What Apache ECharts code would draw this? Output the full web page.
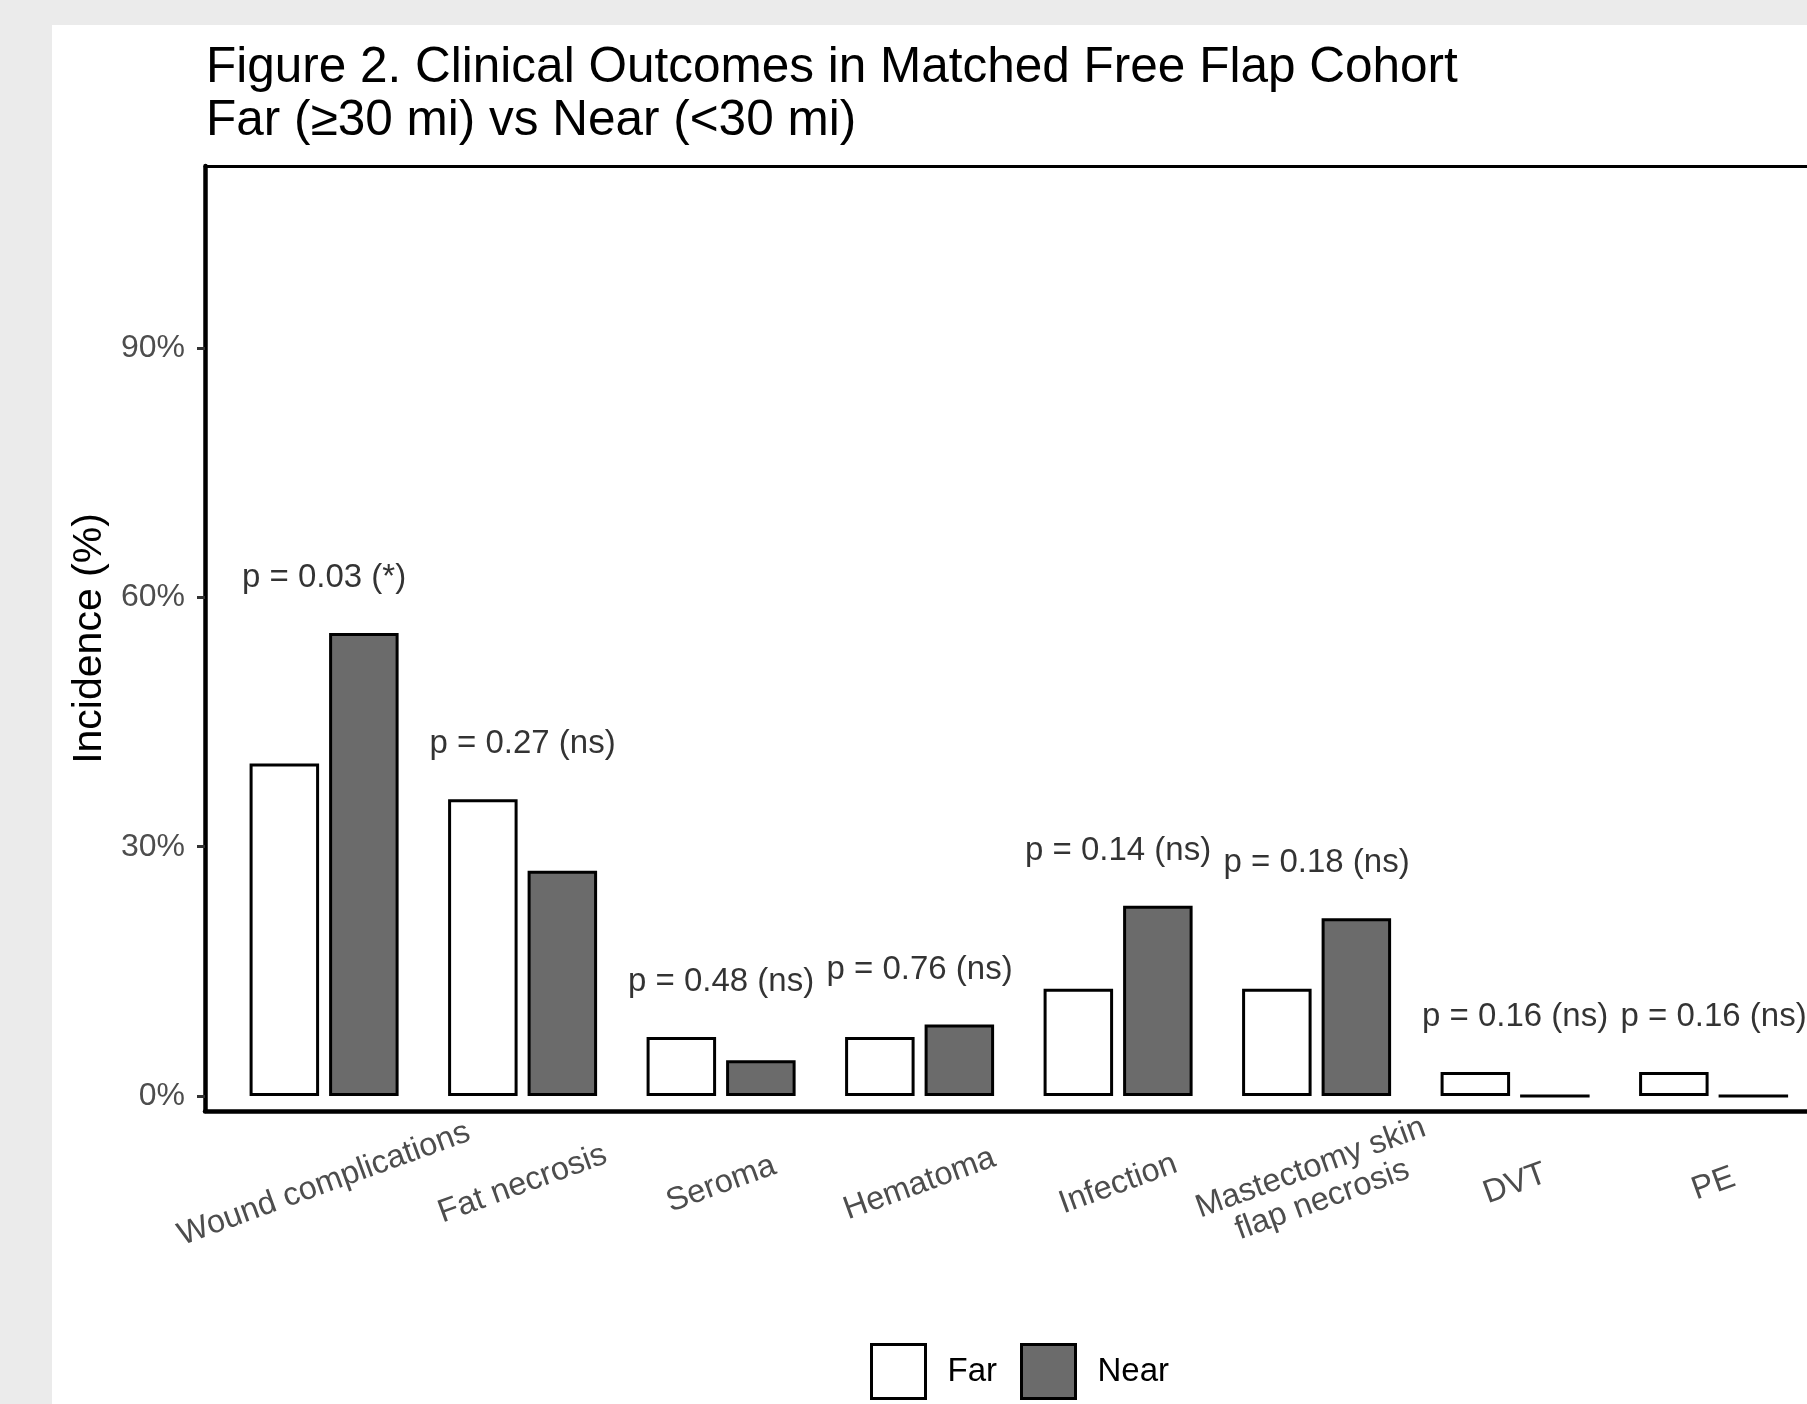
<!DOCTYPE html>
<html>
<head>
<meta charset="utf-8">
<script src="https://cdn.jsdelivr.net/npm/echarts@6/dist/echarts.min.js"></script>
<style>
  html, body { margin: 0; padding: 0; width: 1807px; height: 1404px; overflow: hidden; background: #ebebeb; }
  #sheet { position: absolute; left: 52px; top: 25px; right: 0; bottom: 0; background: #ffffff; }
  #chart { position: absolute; left: 0; top: 0; width: 1807px; height: 1404px; }
</style>
</head>
<body>
<div id="sheet"></div>
<div id="chart"></div>
<script>
// Outcomes and incidence (%) per distance group
const categories = [
  'Wound complications', 'Fat necrosis', 'Seroma', 'Hematoma',
  'Infection', 'Mastectomy skin\nflap necrosis', 'DVT', 'PE'
];
const farValues  = [40.0, 35.7, 7.1, 7.1, 12.9, 12.9, 2.9, 2.9];
const nearValues = [55.7, 27.1, 4.3, 8.6, 22.9, 21.4, 0, 0];
const pLabels = [
  'p = 0.03 (*)', 'p = 0.27 (ns)', 'p = 0.48 (ns)', 'p = 0.76 (ns)',
  'p = 0.14 (ns)', 'p = 0.18 (ns)', 'p = 0.16 (ns)', 'p = 0.16 (ns)'
];
const yTicks = [0, 30, 60, 90];
const seriesNames = ['Far', 'Near'];

const FONT = '"Liberation Sans", Arial, Helvetica, sans-serif';
const Y_MIN = -1.8, Y_MAX = 111.9;

// p-value labels sit a little above the taller bar of each pair
const labelPoints = categories.map((c, i) => [i, Math.max(farValues[i], nearValues[i]) + 5]);

const chart = echarts.init(document.getElementById('chart'), null, { renderer: 'canvas' });

chart.setOption({
  animation: false,
  backgroundColor: 'transparent',
  textStyle: { fontFamily: FONT },
  title: {
    text: 'Figure 2. Clinical Outcomes in Matched Free Flap Cohort\nFar (\u226530 mi) vs Near (<30 mi)',
    left: 201,
    top: 37,
    textStyle: { fontFamily: FONT, fontSize: 49.5, fontWeight: 'normal', color: '#000', lineHeight: 53 }
  },
  legend: {
    data: seriesNames,
    left: 870,
    top: 1343,
    padding: 0,
    itemWidth: 54,
    itemHeight: 54,
    itemGap: 23,
    icon: 'rect',
    itemStyle: { borderColor: '#000', borderWidth: 3 },
    textStyle: { fontFamily: FONT, fontSize: 33, color: '#000', padding: [0, 0, 0, 17] }
  },
  grid: [
    // bars (category bands inset like a discrete scale with 0.6 padding)
    { left: 224.85, top: 166, width: 1588, height: 945, outerBoundsMode: 'none', containLabel: false },
    // panel frame + value axis
    { left: 205, top: 166, width: 1628, height: 945, outerBoundsMode: 'none', containLabel: false }
  ],
  xAxis: [
    {
      type: 'category', gridIndex: 0, data: categories,
      axisLine: { show: false }, axisTick: { show: false }, splitLine: { show: false },
      axisLabel: {
        interval: 0, rotate: 20, align: 'center', verticalAlign: 'middle', margin: 73,
        fontFamily: FONT, fontSize: 32.5, color: '#4d4d4d', lineHeight: 34, hideOverlap: false
      }
    },
    {
      type: 'value', gridIndex: 1, position: 'bottom', min: 0, max: 1,
      axisLine: { show: true, onZero: false, lineStyle: { color: '#000', width: 4.5 } },
      axisTick: { show: false }, axisLabel: { show: false }, splitLine: { show: false }
    },
    {
      type: 'value', gridIndex: 1, position: 'top', min: 0, max: 1,
      axisLine: { show: true, onZero: false, lineStyle: { color: '#000', width: 3 } },
      axisTick: { show: false }, axisLabel: { show: false }, splitLine: { show: false }
    }
  ],
  yAxis: [
    {
      type: 'value', gridIndex: 0, min: Y_MIN, max: Y_MAX, show: false,
      splitLine: { show: false }
    },
    {
      type: 'value', gridIndex: 1, min: Y_MIN, max: Y_MAX,
      name: 'Incidence (%)', nameLocation: 'middle', nameRotate: 90, nameGap: 92,
      nameTextStyle: { fontFamily: FONT, fontSize: 41, color: '#000' },
      axisLine: { show: true, onZero: false, lineStyle: { color: '#000', width: 4.5 } },
      axisTick: { show: true, length: 8, customValues: yTicks, lineStyle: { color: '#333', width: 3 } },
      axisLabel: {
        customValues: yTicks, formatter: '{value}%', margin: 20,
        fontFamily: FONT, fontSize: 32, color: '#4d4d4d'
      },
      splitLine: { show: false }
    }
  ],
  series: [
    {
      name: seriesNames[0], type: 'bar', xAxisIndex: 0, yAxisIndex: 0,
      data: farValues, barWidth: 69.5, barGap: '14.4%',
      itemStyle: { color: '#ffffff', borderColor: '#000', borderWidth: 3 }
    },
    {
      name: seriesNames[1], type: 'bar', xAxisIndex: 0, yAxisIndex: 0,
      data: nearValues, barWidth: 69.5, barGap: '14.4%',
      itemStyle: { color: '#6b6b6b', borderColor: '#000', borderWidth: 3 }
    },
    {
      name: 'p-values', type: 'scatter', xAxisIndex: 0, yAxisIndex: 0,
      data: labelPoints, symbolSize: 0, silent: true,
      label: {
        show: true, position: 'top', distance: -3,
        formatter: (p) => pLabels[p.dataIndex],
        fontFamily: FONT, fontSize: 33, lineHeight: 33, color: '#000'
      }
    }
  ]
});
</script>
</body>
</html>
